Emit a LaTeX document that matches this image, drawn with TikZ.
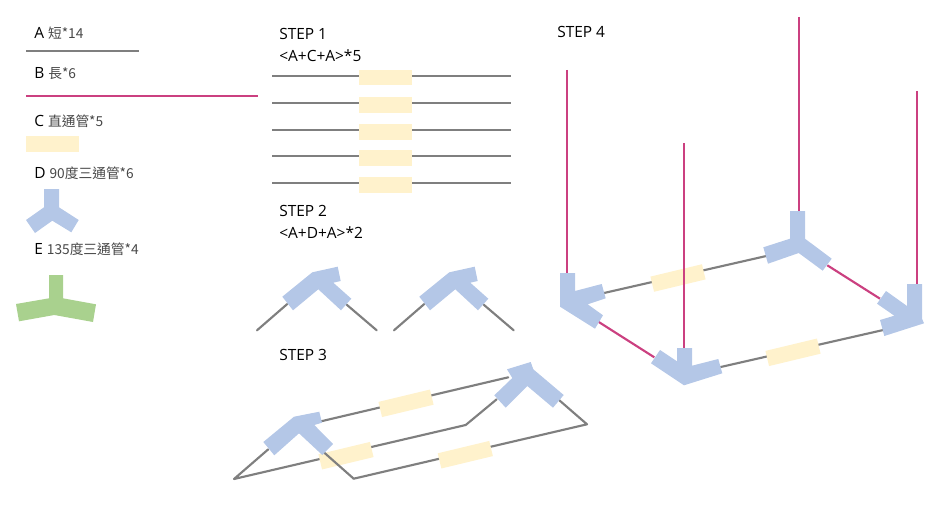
\documentclass[tikz,border=0pt]{standalone}
\usepackage{fontspec}
\setmainfont{Open Sans}
\newfontfamily\cjk{Noto Sans CJK TC}
\definecolor{colorShort}{RGB}{127,127,127}
\definecolor{colorLong}{RGB}{203,64,128}
\definecolor{colorStraight}{RGB}{255,242,204}
\definecolor{colorNinety}{RGB}{180,199,231}
\definecolor{colorObtuse}{RGB}{169,209,142}
\newcommand{\zh}[1]{{\cjk\fontsize{10.3pt}{12pt}\selectfont\color{black!72}#1}}
\begin{document}
\begin{tikzpicture}[x=0.75pt,y=-0.75pt,
  lab/.style={anchor=west, inner sep=0pt, font=\fontsize{11.6pt}{13pt}\selectfont},
  pipeA/.style={draw=colorShort, line width=1.6pt, line join=round, line cap=round},
  pipeB/.style={draw=colorLong, line width=1.6pt},
  sleeve/.style={fill=colorStraight, minimum width=39.75pt, minimum height=11.7pt, inner sep=0pt, outer sep=0pt},
  teeD/.style={fill=colorNinety},
  teeE/.style={fill=colorObtuse}
    ]
    \useasboundingbox (0,0) rectangle (949,510);

    % Legend
    \node[lab] (labA) at (34,33) {A \zh{短*14}};
    \coordinate (a1) at (26,51);
    \coordinate (a2) at (139,51);
    \draw[pipeA, line cap=butt] (a1) -- (a2);
    \node[lab] (labB) at (34,74) {B \zh{長*6}};
    \coordinate (b1) at (26,96);
    \coordinate (b2) at (258,96);
    \draw[pipeB] (b1) -- (b2);
    \node[lab] (labC) at (34,121) {C \zh{直通管*5}};
    \node[sleeve] (legC) at (52.5,144) {};
    \node[lab] (labD) at (34,173) {D \zh{90度三通管*6}};
    \fill[teeD] (44,189) -- (59,189) -- (59,207.3) -- (78.7,220) -- (71.3,232.3) -- (52.3,220.7)
      -- (35,233) -- (26,220) -- (44,207.3) -- cycle;
    \node[lab] (labE) at (34,249) {E \zh{135度三通管*4}};
    \fill[teeE] (49,275) -- (63,275) -- (63,298.3) -- (96,304.3) -- (93,322) -- (54.3,315)
      -- (19,321.3) -- (16,304) -- (49,298.3) -- cycle;

    % Step 1
    \node[lab] (step1) at (279,34) {STEP 1};
    \node[lab] (rule1) at (279,56) {<A+C+A>*5};
    \foreach \i/\ly/\sy in {1/75.7/77.5, 2/103/104.8, 3/129.7/131.8, 4/155.7/157.8, 5/182.7/184.8} {
      \coordinate (s\i l) at (272,\ly);
      \coordinate (s\i r) at (511,\ly);
      \draw[pipeA, line cap=butt] (s\i l) -- (s\i r);
      \node[sleeve] (s\i c) at (385.5,\sy) {};
    }

    % Step 2
    \node[lab] (step2) at (279,211) {STEP 2};
    \node[lab] (rule2) at (279,233) {<A+D+A>*2};
    \foreach \dx/\n in {0/p, 137/q} {
      \begin{scope}[shift={(\dx,0)}]
        \coordinate (\n1) at (257,330.3);
        \coordinate (\n2) at (287.3,304);
        \coordinate (\n3) at (346.7,304.7);
        \coordinate (\n4) at (376.7,330.3);
        \draw[pipeA] (\n1) -- (\n2);
        \draw[pipeA] (\n3) -- (\n4);
        \fill[teeD] (282.3,296.7) -- (312.3,272.3) -- (337.7,266.7) -- (340.7,281) -- (333.3,282.7)
          -- (351.3,298.7) -- (341,310.3) -- (318.3,289.3) -- (293,310.3) -- cycle;
      \end{scope}
    }

    % Step 3
    \node[lab] (step3) at (279,355) {STEP 3};
    \coordinate (m1) at (234,479);
    \coordinate (m2) at (268.3,449.3);
    \coordinate (m3) at (465.7,425);
    \coordinate (m4) at (496.7,399.3);
    \coordinate (m5) at (321,421.3);
    \coordinate (m6) at (508.3,377.3);
    \coordinate (m7) at (324.3,452.7);
    \coordinate (m8) at (353.7,478.7);
    \coordinate (m9) at (587,424.3);
    \coordinate (m10) at (559,400);
    \draw[pipeA] (m2) -- (m1) -- (m3) -- (m4);
    \draw[pipeA] (m5) -- (m6);
    \draw[pipeA] (m8) -- (m9) -- (m10);
    \node[sleeve, rotate=13.5] (t1) at (406,403.3) {};
    \node[sleeve, rotate=13.5] (t2) at (346,455.7) {};
    \node[sleeve, rotate=13.5] (t3) at (465.3,454.7) {};
    \draw[pipeA] (m7) -- (m8);
    \fill[teeD] (263.3,442) -- (294,416.7) -- (319.3,411.7) -- (322,422.7) -- (314.3,425)
      -- (333,444) -- (322.3,455) -- (299,433.3) -- (274.3,455.3) -- cycle;
    \fill[teeD] (494.3,395.3) -- (512.3,378) -- (507,369.3) -- (530.7,362) -- (533.3,369.3)
      -- (563.7,395) -- (553,407.7) -- (527.3,386) -- (505.7,407.7) -- cycle;

    % Step 4
    \node[lab] (step4) at (557,32) {STEP 4};
    \coordinate (g1) at (604,293);
    \coordinate (g2) at (766.3,256);
    \coordinate (g3) at (720.7,367);
    \coordinate (g4) at (883.3,330);
    \draw[pipeA] (g1) -- (g2);
    \draw[pipeA] (g3) -- (g4);
    \node[sleeve, rotate=13.5] (u1) at (678,278) {};
    \node[sleeve, rotate=13.5] (u2) at (793,352.3) {};
    \coordinate (r1) at (598.3,321.7);
    \coordinate (r2) at (654.3,357.3);
    \coordinate (r3) at (827.3,265.3);
    \coordinate (r4) at (880,298.7);
    \draw[pipeB] (r1) -- (r2);
    \draw[pipeB] (r3) -- (r4);
    \foreach \n/\x/\ya/\yb in {v1/567/70/274, v2/684/143/349, v3/799/17/212, v4/917/91/285} {
      \coordinate (\n a) at (\x,\ya);
      \coordinate (\n b) at (\x,\yb);
      \draw[pipeB] (\n a) -- (\n b);
    }
    \fill[teeD] (560,273) -- (575,273) -- (575,291) -- (601.7,284) -- (605.7,298.3) -- (587.7,304.3)
      -- (603,315.3) -- (595,328.7) -- (560,306.7) -- cycle;
    \fill[teeD] (790,211) -- (805,211) -- (805,238.7) -- (831.7,258.7) -- (822.7,270.7) -- (798.7,253)
      -- (768,263.7) -- (763.3,247.3) -- (790,238.7) -- cycle;
    \fill[teeD] (907,284) -- (922,284) -- (922,318.7) -- (924,323.3) -- (884.3,336) -- (880,320)
      -- (894.3,315.7) -- (877,303.7) -- (886,291) -- (907,306) -- cycle;
    \fill[teeD] (677,348) -- (692,348) -- (692,365.7) -- (718.3,359) -- (722.3,373.3) -- (684,385.3)
      -- (651,363.3) -- (660,350) -- (677,361.3) -- cycle;
\end{tikzpicture}
\end{document}
